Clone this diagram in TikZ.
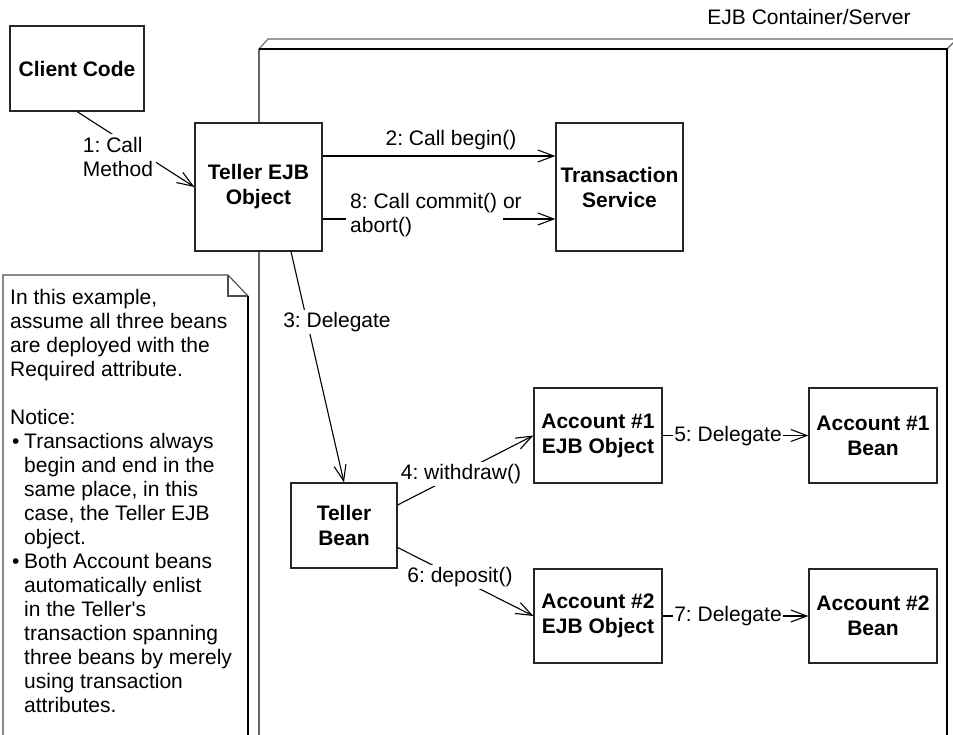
\documentclass[tikz,border=0pt]{standalone}
\usepackage{fontspec}
\setmainfont{Liberation Sans}
\usetikzlibrary{arrows.meta,calc}
\frenchspacing
\begin{document}
\begin{tikzpicture}[x=1pt,y=-1pt,
  box/.style={draw=black!85, line width=1.2pt, fill=white, font=\fontsize{21}{25}\selectfont\bfseries, align=center, inner sep=0pt},
  lbl/.style={font=\fontsize{21}{24}\selectfont, align=left, inner sep=2pt},
  wlbl/.style={lbl, fill=white},
  arr/.style={line width=1.1pt, -{Straight Barb[length=16pt,width=12pt,line width=1.1pt]}},
  ln/.style={line width=1.1pt}
]
\useasboundingbox (0,0) rectangle (953,735);
\clip (0,0) rectangle (953,735);

% container
\coordinate (kfl) at (259,745);
\coordinate (ktl) at (259,49);
\coordinate (ktr) at (947,49);
\coordinate (kbr) at (947,745);
\coordinate (kbtl) at (268,39);
\coordinate (kbtr) at (960,39);
\coordinate (kbr2) at (957,39);
\draw[black!60, line width=1.3pt] (kfl) -- (ktl);
\draw[black!60, line width=1.1pt] (ktl) -- (kbtl) -- (kbtr);
\draw[black!60, line width=1.1pt] (ktr) -- (kbr2);
\draw[black, line width=2pt] (ktl) -- (ktr) -- (kbr);
\node[lbl] (cont) at (809,17) {EJB Container/Server};

% note
\coordinate (nbl) at (3,745);
\coordinate (ntl) at (3,275);
\coordinate (nf1) at (228,275);
\coordinate (nf2) at (248,296);
\coordinate (nf3) at (228,296);
\coordinate (nbr) at (248,745);
\draw[black!70, line width=1.1pt] (nbl) -- (ntl) -- (nf1) -- (nf2);
\draw[black!70, line width=1.1pt] (nf1) -- (nf3) -- (nf2);
\draw[black, line width=1.6pt] (nf2) -- (nbr);
\node[lbl, inner sep=0pt, anchor=north west] (note) at (10,289) {%
In this example,\\
assume all three beans\\
are deployed with the\\
Required attribute.\\[24.4pt]
Notice:\\
\hspace*{2pt}\makebox[12pt][l]{\textbullet}Transactions always\\
\hspace*{14pt}begin and end in the\\
\hspace*{14pt}same place, in this\\
\hspace*{14pt}case, the Teller EJB\\
\hspace*{14pt}object.\\
\hspace*{2pt}\makebox[12pt][l]{\textbullet}Both Account beans\\
\hspace*{14pt}automatically enlist\\
\hspace*{14pt}in the Teller\textquotesingle s\\
\hspace*{14pt}transaction spanning\\
\hspace*{14pt}three beans by merely\\
\hspace*{14pt}using transaction\\
\hspace*{14pt}attributes.};

% boxes
\node[box, minimum width=134pt, minimum height=85pt] (cc) at (77,68.5) {Client Code};
\node[box, minimum width=127pt, minimum height=128pt] (te) at (258.5,187) {Teller EJB\\Object};
\node[box, minimum width=127pt, minimum height=128pt] (ts) at (619.5,187) {Transaction\\Service};
\node[box, minimum width=106pt, minimum height=85pt] (tb) at (344,525.5) {Teller\\Bean};
\node[box, minimum width=128pt, minimum height=95pt] (a1) at (598,435.5) {Account \#1\\EJB Object};
\node[box, minimum width=128pt, minimum height=95pt] (b1) at (873,435.5) {Account \#1\\Bean};
\node[box, minimum width=128pt, minimum height=94pt] (a2) at (598,616) {Account \#2\\EJB Object};
\node[box, minimum width=128pt, minimum height=94pt] (b2) at (873,616) {Account \#2\\Bean};

% connectors
\draw[arr] (cc.south) -- (te.west);
\draw[arr] ($(te.east)+(0,-31)$) -- ($(ts.west)+(0,-31)$);
\coordinate (c8a) at (346,219);
\coordinate (c8b) at (503,219);
\draw[ln] (te.east |- c8a) -- (c8a);
\draw[arr] (c8b) -- (ts.west |- c8b);
\draw[arr] ($(te.south)+(32.5,0)$) -- (tb.north);
\draw[arr] ($(tb.east)+(0,-20.5)$) -- (a1.west);
\draw[arr] ($(tb.east)+(0,22)$) -- (a2.west);
\draw[arr] (a1.east) -- (b1.west);
\draw[arr] (a2.east) -- (b2.west);

% labels
\node[wlbl, inner sep=3pt] (l1) at (118,157) {1: Call\\Method};
\node[lbl] (l2) at (451,140) {2: Call begin()};
\node[lbl, inner sep=0pt, anchor=west] (l8) at (350,215) {8: Call commit() or\\abort()};
\node[wlbl] (l3) at (337,322) {3: Delegate};
\node[wlbl] (l4) at (461,474) {4: withdraw()};
\node[wlbl] (l6) at (460,577) {6: deposit()};
\node[wlbl, inner xsep=1pt, inner ysep=0pt] (l5) at (728,436) {5: Delegate};
\node[wlbl, inner xsep=1pt, inner ysep=0pt] (l7) at (728,616) {7: Delegate};
\end{tikzpicture}
\end{document}
